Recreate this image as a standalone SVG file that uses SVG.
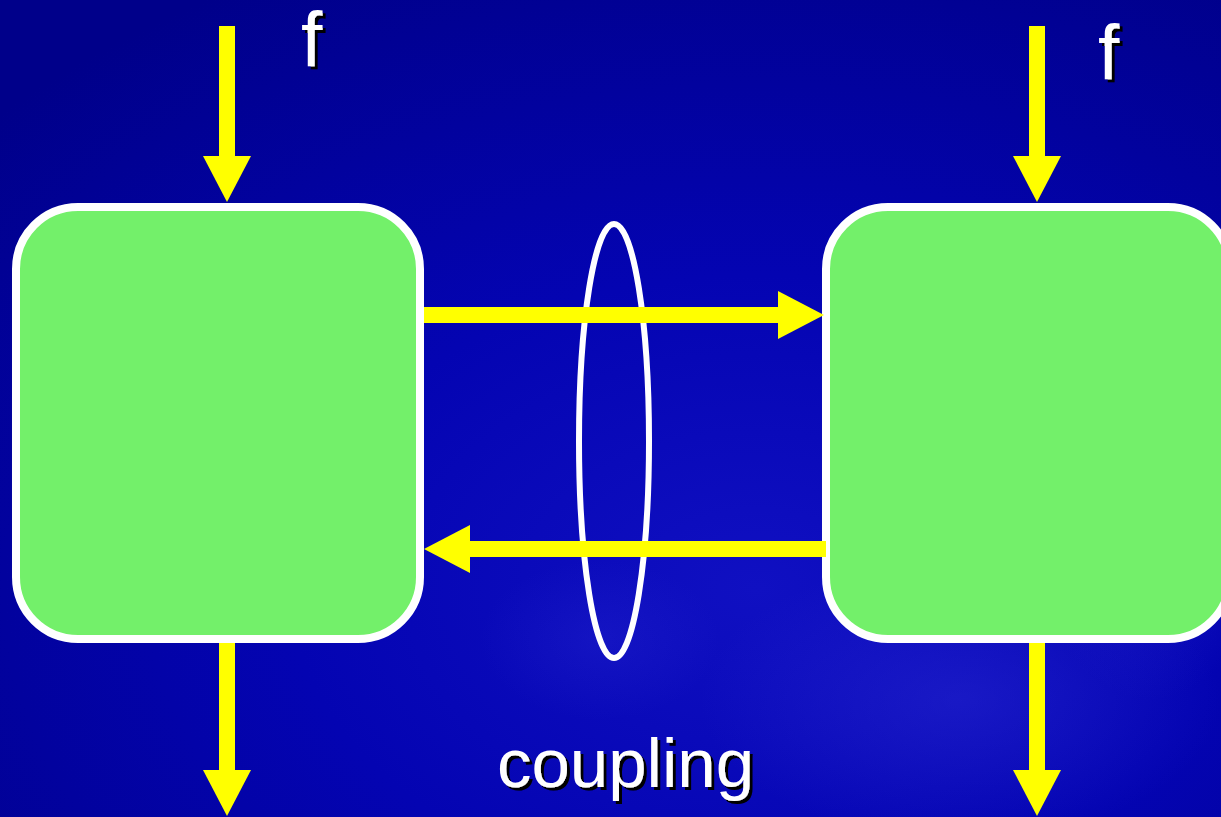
<svg xmlns="http://www.w3.org/2000/svg" width="1221" height="817" viewBox="0 0 1221 817">
  <defs>
    <radialGradient id="bg" cx="0.62" cy="0.72" r="0.85">
      <stop offset="0" stop-color="#1010c2"/>
      <stop offset="0.45" stop-color="#0404b2"/>
      <stop offset="1" stop-color="#00008a"/>
    </radialGradient>
    <radialGradient id="cloud" cx="0.5" cy="0.5" r="0.5">
      <stop offset="0" stop-color="#3030d8" stop-opacity="0.4"/>
      <stop offset="1" stop-color="#3030d8" stop-opacity="0"/>
    </radialGradient>
    <filter id="shadow" x="-20%" y="-20%" width="140%" height="140%">
      <feDropShadow dx="3" dy="3" stdDeviation="0.4" flood-color="#000000" flood-opacity="1"/>
    </filter>
    <marker id="head" viewBox="0 0 46 48" refX="1" refY="24" markerWidth="46" markerHeight="48" markerUnits="userSpaceOnUse" orient="auto">
      <path d="M0,0 L46,24 L0,48 Z" fill="#ffff00"/>
    </marker>
    <style>
      .box { fill: #73f06a; stroke: #ffffff; stroke-width: 8; }
      .arrow { stroke: #ffff00; stroke-width: 16; fill: none; marker-end: url(#head); }
      .lbl { font-family: "Liberation Sans", Arial, sans-serif; fill: #ffffff; filter: url(#shadow); }
    </style>
  </defs>
  <rect x="0" y="0" width="1221" height="817" fill="url(#bg)"/>
  <ellipse cx="960" cy="700" rx="260" ry="140" fill="url(#cloud)"/>
  <ellipse cx="1150" cy="520" rx="120" ry="180" fill="url(#cloud)"/>
  <ellipse cx="600" cy="640" rx="120" ry="80" fill="url(#cloud)" opacity="0.6"/>

  <g id="box-left">
    <rect class="box" x="16" y="207" width="404" height="432" rx="62" ry="62"/>
  </g>
  <g id="box-right">
    <rect class="box" x="826" y="207" width="404" height="432" rx="62" ry="62"/>
  </g>
  <g id="coupling">
    <ellipse cx="614" cy="441" rx="35" ry="217" fill="none" stroke="#ffffff" stroke-width="6"/>
  </g>

  <g id="connectors">
    <line class="arrow" x1="227" y1="26" x2="227" y2="157"/>
    <line class="arrow" x1="1037" y1="26" x2="1037" y2="157"/>
    <line class="arrow" x1="227" y1="643" x2="227" y2="771"/>
    <line class="arrow" x1="1037" y1="643" x2="1037" y2="771"/>
    <line class="arrow" x1="424" y1="315" x2="779" y2="315"/>
    <line class="arrow" x1="826" y1="549" x2="469" y2="549"/>
  </g>

  <g id="labels">
    <text class="lbl" x="301" y="67" font-size="77">f</text>
    <text class="lbl" x="1098" y="80" font-size="77">f</text>
    <text class="lbl" x="497" y="787" font-size="69">coupling</text>
  </g>
</svg>
